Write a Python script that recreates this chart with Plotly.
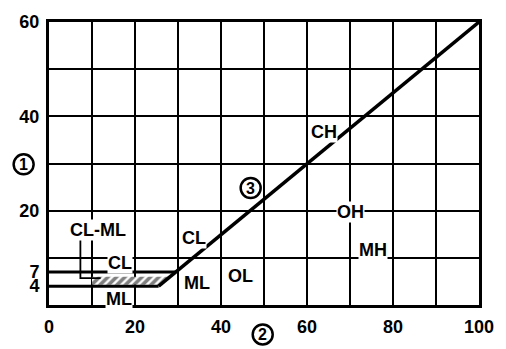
import plotly.graph_objects as go

# ---- data ----
x_ticks = [0, 20, 40, 60, 80, 100]
y_tickvals = [4, 7, 20, 40, 60]
y_ticktext = ["4", "7", "20", "40", "60"]

# A-line and the PI=4 / PI=7 limits
aline_ll = [25.5, 100]
aline_pi = [4, 60]
pi7_ll = [0, 29.5]
pi7_pi = [7, 7]
pi4_ll = [0, 25.5]
pi4_pi = [4, 4]

# hatched CL-ML zone
hatch_ll = [10, 25.9, 28.2, 10, 10]
hatch_pi = [4.3, 4.3, 6.0, 6.0, 4.3]

# leader from CL-ML label
leader_ll = [7.3, 7.3, 12]
leader_pi = [13.8, 5.7, 5.7]

region_labels = ["CL-ML", "CL", "ML", "CL", "ML", "OL", "CH", "OH", "MH"]
region_ll = [11.5, 16.6, 16.2, 33.7, 34.4, 44.6, 64.0, 70.2, 75.4]
region_pi = [15.8, 9.0, 1.2, 14.2, 4.6, 6.2, 36.7, 19.8, 11.7]

# circled markers: (label, x, y, ref)
circ_labels = ["1", "2", "3"]
circ_x = [-0.059, 0.497, 46.9]
circ_y = [0.497, -0.104, 24.8]
circ_ref = ["paper", "paper", "data"]

FONT = "Liberation Sans, Arial, sans-serif"

fig = go.Figure()

fig.add_trace(go.Scatter(x=hatch_ll, y=hatch_pi, mode="lines", fill="toself",
                         fillcolor="white", line=dict(width=0),
                         fillpattern=dict(shape="/", fgcolor="black", bgcolor="white",
                                          size=6, solidity=0.6),
                         hoverinfo="skip", showlegend=False))
fig.add_trace(go.Scatter(x=leader_ll, y=leader_pi, mode="lines",
                         line=dict(color="black", width=1.8), showlegend=False))
for xs, ys, w in [(pi7_ll, pi7_pi, 3), (pi4_ll, pi4_pi, 3), (aline_ll, aline_pi, 3.5)]:
    fig.add_trace(go.Scatter(x=xs, y=ys, mode="lines",
                             line=dict(color="black", width=w), showlegend=False))

for t, x, y in zip(region_labels, region_ll, region_pi):
    fig.add_annotation(x=x, y=y, text=t, showarrow=False, bgcolor="white",
                       borderpad=0,
                       font=dict(family=FONT, size=18, color="black", weight="bold"))

for t, x, y, ref in zip(circ_labels, circ_x, circ_y, circ_ref):
    xr = "paper" if ref == "paper" else "x"
    yr = "paper" if ref == "paper" else "y"
    fig.add_shape(type="circle", xref=xr, yref=yr, xsizemode="pixel", ysizemode="pixel",
                  xanchor=x, yanchor=y, x0=-10, x1=10, y0=-10, y1=10,
                  line=dict(color="black", width=2.5), fillcolor="white", layer="above")
    fig.add_annotation(x=x, y=y, xref=xr, yref=yr, text=t, showarrow=False,
                       xanchor="center", yanchor="middle",
                       font=dict(family=FONT, size=16, color="black", weight="bold"))

tickfont = dict(family=FONT, size=18, color="black", weight="bold")
fig.update_xaxes(range=[0, 100], tickvals=x_ticks, ticktext=[str(v) for v in x_ticks],
                 showgrid=True, gridcolor="black", gridwidth=1.5,
                 minor=dict(dtick=10, tick0=0, showgrid=True, gridcolor="black", gridwidth=1.5),
                 showline=True, linecolor="black", linewidth=3, mirror=True,
                 zeroline=False, ticks="outside", ticklen=3, tickcolor="white",
                 tickfont=tickfont)
fig.update_yaxes(range=[0, 60], tickvals=y_tickvals, ticktext=y_ticktext,
                 showgrid=False,
                 minor=dict(dtick=10, tick0=0, showgrid=True, gridcolor="black", gridwidth=1.5),
                 showline=True, linecolor="black", linewidth=3, mirror=True,
                 zeroline=False, ticks="outside", ticklen=3, tickcolor="white",
                 tickfont=tickfont)

fig.update_layout(width=506, height=349, margin=dict(l=49, r=18, t=20, b=41),
                  plot_bgcolor="white", paper_bgcolor="white", showlegend=False)

fig.write_html("out.html")
